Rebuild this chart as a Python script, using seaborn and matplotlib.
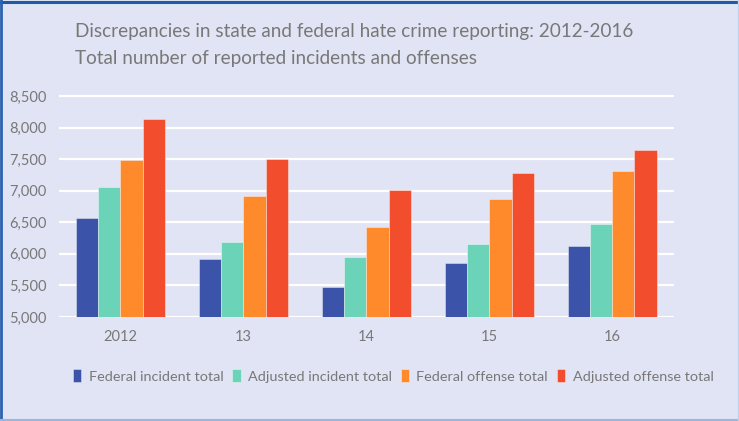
import pandas as pd
import numpy as np
import matplotlib.pyplot as plt
import seaborn as sns
from matplotlib.lines import Line2D

# Data
years = ['2012', '13', '14', '15', '16']
federal_incident = [6573, 5919, 5470, 5850, 6119]
adjusted_incident = [7064, 6183, 5945, 6151, 6478]
federal_offense = [7487, 6922, 6420, 6874, 7313]
adjusted_offense = [8131, 7503, 7012, 7276, 7640]
series = ['Federal incident total', 'Adjusted incident total',
          'Federal offense total', 'Adjusted offense total']
colors = ['#3b53a8', '#6ad3b8', '#fe8a2c', '#f24e2e']
yticks = [5000, 5500, 6000, 6500, 7000, 7500, 8000, 8500]

df = pd.DataFrame({'year': years,
                   series[0]: federal_incident,
                   series[1]: adjusted_incident,
                   series[2]: federal_offense,
                   series[3]: adjusted_offense})
df = df.melt(id_vars='year', var_name='series', value_name='total')

bg = '#e1e4f4'
txt = '#787878'
plt.rcParams['font.family'] = ['Lato', 'DejaVu Sans']

fig = plt.figure(figsize=(7.39, 4.21), dpi=100, facecolor=bg)
ax = fig.add_axes([0.0798, 0.247, 0.832, 0.54])
ax.set_facecolor(bg)

sns.barplot(data=df, x='year', y='total', hue='series', hue_order=series,
            palette=colors, width=0.72, gap=0, saturation=1,
            edgecolor=(1, 1, 1, 0.45), linewidth=0.6, ax=ax)

ax.set_ylim(5000, 8600)
ax.set_xlim(-0.5, 4.5)
ax.set_yticks(yticks)
ax.set_yticklabels([f'{v:,}' for v in yticks])
ax.grid(axis='y', color='white', linewidth=1.6)
ax.grid(axis='x', visible=False)
ax.set_axisbelow(True)
for s in ax.spines.values():
    s.set_visible(False)
ax.tick_params(length=0, labelsize=10.5, labelcolor=txt)
ax.tick_params(axis='y', pad=9)
ax.tick_params(axis='x', pad=9)
ax.set_xlabel('')
ax.set_ylabel('')

leg = ax.legend(loc='center', bbox_to_anchor=(0.532, 0.107),
                bbox_transform=fig.transFigure, ncol=4, frameon=False,
                handlelength=0.6, handleheight=1.0, handletextpad=0.5,
                columnspacing=0.6, fontsize=10.4)
for t in leg.get_texts():
    t.set_color(txt)

fig.text(0.101, 0.925, 'Discrepancies in state and federal hate crime reporting: 2012-2016',
         fontsize=13.6, color=txt, va='center')
fig.text(0.101, 0.862, 'Total number of reported incidents and offenses',
         fontsize=13.6, color=txt, va='center')

# frame around the graphic
fig.add_artist(Line2D([0, 1], [0.995, 0.995], color='#1f5aa6', linewidth=2.2))
fig.add_artist(Line2D([0.002, 0.002], [0, 1], color='#2a62ad', linewidth=2))
fig.add_artist(Line2D([0, 1], [0.003, 0.003], color='#9ab6de', linewidth=1.5))
fig.add_artist(Line2D([0.998, 0.998], [0, 1], color='#c3d0ea', linewidth=1))

fig.savefig('out.png', dpi=100, facecolor=bg)
